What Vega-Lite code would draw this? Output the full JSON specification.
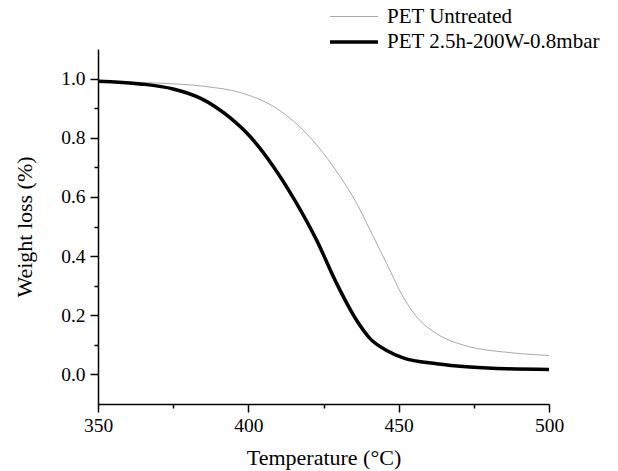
{
  "$schema": "https://vega.github.io/schema/vega-lite/v6.json",
  "autosize": "none",
  "width": 451,
  "height": 355,
  "padding": {"left": 98, "top": 49, "right": 69, "bottom": 67},
  "background": "white",
  "config": {
    "view": {"stroke": null},
    "font": "Liberation Serif",
    "axis": {"grid": false, "domainColor": "black", "domainWidth": 1.5, "tickColor": "black", "tickWidth": 1.5, "labelColor": "black", "titleColor": "black", "labelFont": "Liberation Serif", "titleFont": "Liberation Serif", "titleFontWeight": "normal", "labelFontSize": 19.5, "titleFontSize": 22}
  },
  "data": {"values": [
    {"T": 350, "w": 0.991, "s": "PET Untreated"},
    {"T": 369.5, "w": 0.985, "s": "PET Untreated"},
    {"T": 386, "w": 0.973, "s": "PET Untreated"},
    {"T": 397.2, "w": 0.953, "s": "PET Untreated"},
    {"T": 408.3, "w": 0.906, "s": "PET Untreated"},
    {"T": 417.2, "w": 0.836, "s": "PET Untreated"},
    {"T": 424.9, "w": 0.748, "s": "PET Untreated"},
    {"T": 430.5, "w": 0.669, "s": "PET Untreated"},
    {"T": 436, "w": 0.579, "s": "PET Untreated"},
    {"T": 440.5, "w": 0.488, "s": "PET Untreated"},
    {"T": 446, "w": 0.375, "s": "PET Untreated"},
    {"T": 451.5, "w": 0.262, "s": "PET Untreated"},
    {"T": 457, "w": 0.183, "s": "PET Untreated"},
    {"T": 462.6, "w": 0.138, "s": "PET Untreated"},
    {"T": 473.7, "w": 0.093, "s": "PET Untreated"},
    {"T": 484.8, "w": 0.076, "s": "PET Untreated"},
    {"T": 500, "w": 0.064, "s": "PET Untreated"},
    {"T": 350, "w": 0.991, "s": "PET 2.5h-200W-0.8mbar"},
    {"T": 364, "w": 0.982, "s": "PET 2.5h-200W-0.8mbar"},
    {"T": 375, "w": 0.965, "s": "PET 2.5h-200W-0.8mbar"},
    {"T": 384, "w": 0.934, "s": "PET 2.5h-200W-0.8mbar"},
    {"T": 394, "w": 0.867, "s": "PET 2.5h-200W-0.8mbar"},
    {"T": 400.5, "w": 0.805, "s": "PET 2.5h-200W-0.8mbar"},
    {"T": 408.3, "w": 0.703, "s": "PET 2.5h-200W-0.8mbar"},
    {"T": 416, "w": 0.579, "s": "PET 2.5h-200W-0.8mbar"},
    {"T": 422.7, "w": 0.454, "s": "PET 2.5h-200W-0.8mbar"},
    {"T": 429.4, "w": 0.307, "s": "PET 2.5h-200W-0.8mbar"},
    {"T": 436, "w": 0.183, "s": "PET 2.5h-200W-0.8mbar"},
    {"T": 440.5, "w": 0.121, "s": "PET 2.5h-200W-0.8mbar"},
    {"T": 446, "w": 0.081, "s": "PET 2.5h-200W-0.8mbar"},
    {"T": 451.5, "w": 0.056, "s": "PET 2.5h-200W-0.8mbar"},
    {"T": 462.6, "w": 0.036, "s": "PET 2.5h-200W-0.8mbar"},
    {"T": 473.7, "w": 0.025, "s": "PET 2.5h-200W-0.8mbar"},
    {"T": 486, "w": 0.019, "s": "PET 2.5h-200W-0.8mbar"},
    {"T": 500, "w": 0.017, "s": "PET 2.5h-200W-0.8mbar"}
  ]},
  "mark": {"type": "line", "interpolate": "monotone"},
  "encoding": {
    "x": {"field": "T", "type": "quantitative", "scale": {"domain": [350, 500], "nice": false, "zero": false},
      "axis": {"title": "Temperature (°C)", "values": [350, 375, 400, 425, 450, 475, 500],
        "labelExpr": "datum.value % 50 == 0 ? datum.label : ''", "format": "d",
        "tickSize": {"condition": {"test": "datum.value % 50 != 0", "value": 4}, "value": 8},
        "labelPadding": 4, "titlePadding": 13, "labelFlush": false}},
    "y": {"field": "w", "type": "quantitative", "scale": {"domain": [-0.1, 1.1], "nice": false, "zero": false},
      "axis": {"title": "Weight loss (%)", "values": [0, 0.1, 0.2, 0.3, 0.4, 0.5, 0.6, 0.7, 0.8, 0.9, 1.0], "format": ".1f",
        "labelExpr": "round(datum.value * 10) % 2 == 0 ? datum.label : ''",
        "tickSize": {"condition": {"test": "round(datum.value * 10) % 2 != 0", "value": 4}, "value": 8},
        "labelPadding": 5, "titlePadding": 24}},
    "color": {"field": "s", "type": "nominal", "scale": {"domain": ["PET Untreated", "PET 2.5h-200W-0.8mbar"], "range": ["#a8a8a8", "#000000"]},
      "legend": {"title": null, "orient": "none", "legendX": 242, "legendY": -45, "padding": 0, "symbolType": "M-2,0L2,0", "symbolSize": 576, "labelFontSize": 21, "labelFont": "Liberation Serif", "labelColor": "black", "labelLimit": 0, "rowPadding": 1, "labelOffset": 19}},
    "strokeWidth": {"field": "s", "type": "nominal", "scale": {"domain": ["PET Untreated", "PET 2.5h-200W-0.8mbar"], "range": [1, 3.5]}}
  }
}
